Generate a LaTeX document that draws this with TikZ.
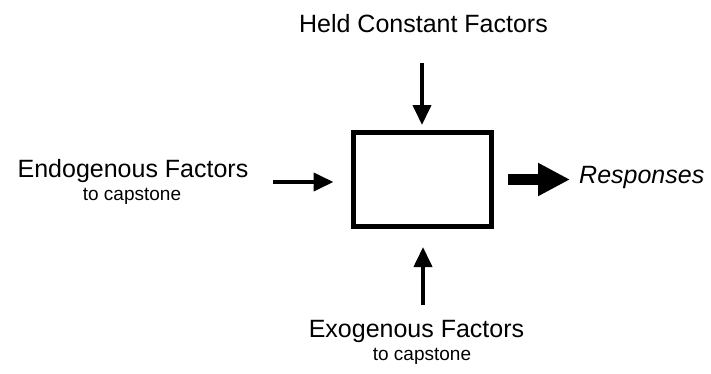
\documentclass[tikz,border=0pt]{standalone}
\usepackage{fontspec}
\setmainfont{Liberation Sans}
\usetikzlibrary{arrows.meta}

\begin{document}
\begin{tikzpicture}[x=1pt,y=-1pt]
              \tikzstyle{big} = [font=\fontsize{25}{30}\selectfont, anchor=base, inner sep=0pt];
              \tikzstyle{small} = [font=\fontsize{19}{23}\selectfont, anchor=base, inner sep=0pt];
              \tikzstyle{arrin} = [line width=4pt, -{Triangle[length=20pt,width=18pt]}];
              \useasboundingbox (0,0) rectangle (711,373);
              % the box
              \node[draw, line width=5pt, minimum width=138pt, minimum height=94pt, inner sep=0pt] (sys) at (422,179.5) {};
              % labels
              \node[big] (held) at (423.5,32) {Held Constant Factors};
              \node[big] (endo) at (133,177) {Endogenous Factors};
              \node[small] (endosub) at (132,200) {to capstone};
              \node[big] (exo) at (416.5,337) {Exogenous Factors};
              \node[small] (exosub) at (422,360) {to capstone};
              \node[big, anchor=base west, font=\fontsize{25}{30}\selectfont\itshape] (resp) at (579,183) {Responses};
              % arrow tails
              \coordinate (topin) at (422,63);
              \coordinate (leftin) at (273,182);
              \coordinate (botin) at (423,305);
              % arrows
              \draw[arrin, shorten >=5pt] (topin) -- (sys.north);
              \draw[arrin, shorten >=17pt] (leftin) -- (leftin -| sys.west);
              \draw[arrin, shorten >=18pt] (botin) -- (botin |- sys.south);
              \draw[line width=11pt, -{Triangle[length=32pt,width=31pt]}, shorten <=14pt, shorten >=9pt] (sys.east) -- (sys.east -| resp.west);
            \end{tikzpicture}
\end{document}
